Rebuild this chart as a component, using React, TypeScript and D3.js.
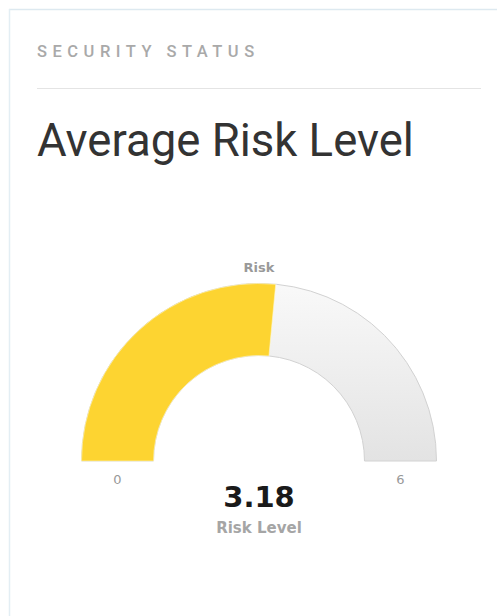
import React from "react";
import * as d3 from "d3";

// Gauge data
const gaugeMin = [0];
const gaugeMax = [6];
const riskValue = [3.18];
const gaugeTitle = ["Risk"];
const valueLabel = ["Risk Level"];
const headerText = ["SECURITY STATUS"];
const titleText = ["Average Risk Level"];

const W = 497;
const H = 616;

export default function App() {
  const cx = 259;
  const cy = 461;
  const outerR = 177.5;
  const innerR = 105.5;

  const angle = d3
    .scaleLinear()
    .domain([gaugeMin[0], gaugeMax[0]])
    .range([-Math.PI / 2, Math.PI / 2]);

  const arc = d3.arc<{ startAngle: number; endAngle: number }>()
    .innerRadius(innerR)
    .outerRadius(outerR);

  const bgPath = arc({ startAngle: angle(gaugeMin[0]), endAngle: angle(gaugeMax[0]) }) || "";
  const valPath = arc({ startAngle: angle(gaugeMin[0]), endAngle: angle(riskValue[0]) }) || "";

  const labelX = (v: number) => {
    const a = angle(v);
    return cx + Math.sin(a) * (innerR + outerR) / 2;
  };

  return (
    <svg
      width={W}
      height={H}
      style={{ position: "absolute", left: 0, top: 0, background: "#ffffff" }}
    >
      <defs>
        <linearGradient id="gaugeBg" x1="0" y1="0" x2="0" y2="1">
          <stop offset="0%" stopColor="#f9f9f9" />
          <stop offset="100%" stopColor="#e3e3e3" />
        </linearGradient>
      </defs>
      {/* card frame */}
      <line x1={9} y1={9.5} x2={W} y2={9.5} stroke="#dde9f0" strokeWidth={1.5} />
      <line x1={9.5} y1={9} x2={9.5} y2={H} stroke="#e3eef4" strokeWidth={1.5} />

      <text
        x={37}
        y={57}
        fontFamily="Roboto, sans-serif"
        fontWeight={500}
        fontSize={16.5}
        letterSpacing={5.5}
        fill="#a9a9a9"
      >
        {headerText[0]}
      </text>
      <line x1={37} y1={88.5} x2={481} y2={88.5} stroke="#e4e4e4" strokeWidth={1} />
      <text
        x={37}
        y={156}
        fontFamily="Roboto, sans-serif"
        fontSize={45.5}
        fill="#333333"
      >
        {titleText[0]}
      </text>

      <g transform={`translate(${cx},${cy})`}>
        <path d={bgPath} fill="url(#gaugeBg)" stroke="#d2d2d2" strokeWidth={1} />
        <path d={valPath} fill="#fdd431" stroke="#fff6c8" strokeWidth={0.6} />
      </g>

      <text
        x={cx}
        y={272}
        textAnchor="middle"
        fontFamily="DejaVu Sans, sans-serif"
        fontWeight="bold"
        fontSize={13}
        fill="#999999"
      >
        {gaugeTitle[0]}
      </text>
      <text
        x={labelX(gaugeMin[0])}
        y={484}
        textAnchor="middle"
        fontFamily="DejaVu Sans, sans-serif"
        fontSize={13}
        fill="#999999"
      >
        {gaugeMin[0]}
      </text>
      <text
        x={labelX(gaugeMax[0])}
        y={484}
        textAnchor="middle"
        fontFamily="DejaVu Sans, sans-serif"
        fontSize={13}
        fill="#999999"
      >
        {gaugeMax[0]}
      </text>
      <text
        x={cx}
        y={507}
        textAnchor="middle"
        fontFamily="DejaVu Sans, sans-serif"
        fontWeight="bold"
        fontSize={29}
        fill="#1a1a1a"
      >
        {riskValue[0].toFixed(2)}
      </text>
      <text
        x={cx}
        y={533}
        textAnchor="middle"
        fontFamily="DejaVu Sans, sans-serif"
        fontWeight="bold"
        fontSize={15}
        fill="#a5a5a5"
      >
        {valueLabel[0]}
      </text>
    </svg>
  );
}
